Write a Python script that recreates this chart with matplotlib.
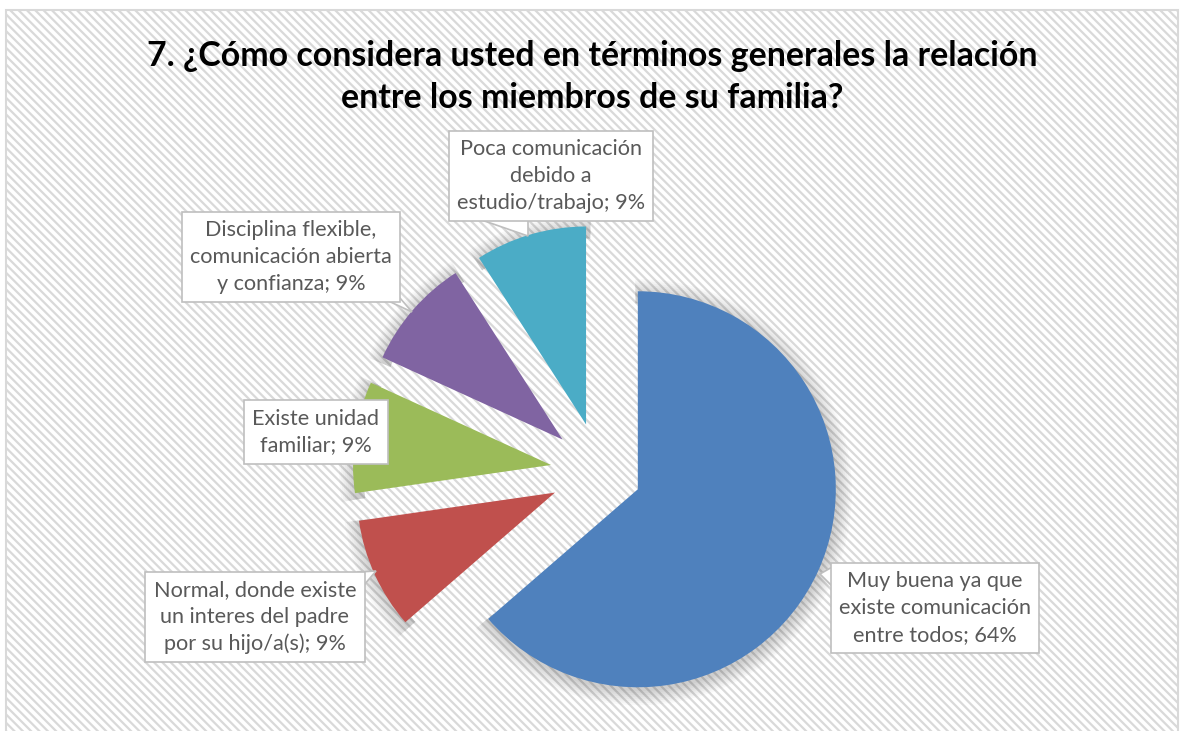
import numpy as np
import matplotlib.pyplot as plt
from matplotlib.patches import Rectangle, Wedge, Polygon

plt.rcParams['font.family'] = ['Lato', 'DejaVu Sans']
plt.rcParams['hatch.color'] = '#F3F3F3'
plt.rcParams['hatch.linewidth'] = 1.6

# data
labels = ["Muy buena ya que\nexiste comunicación\nentre todos",
          "Normal, donde existe\nun interes del padre\npor su hijo/a(s)",
          "Existe unidad\nfamiliar",
          "Disciplina flexible,\ncomunicación abierta\ny confianza",
          "Poca comunicación\ndebido a\nestudio/trabajo"]
values = [7, 1, 1, 1, 1]
colors = ["#4F81BD", "#C0504D", "#9BBB59", "#8064A2", "#4BACC6"]
explode = [0.21, 0.25, 0.25, 0.25, 0.25]
title = "7. ¿Cómo considera usted en términos generales la relación\nentre los miembros de su familia?"

# label box centres in pixels (x, y from top)
label_pos = [(935, 608), (255, 617), (316, 432), (291, 257), (551, 176)]
# callout tails (pixels from top), None = no tail
tails = [[(834, 566), (834, 588), (820, 574)],
         [(358, 572), (358, 592), (376, 571)],
         None,
         [(382, 298), (400, 298), (412, 312)],
         [(470, 216), (528, 216), (528, 236)]]

W, H = 1184, 731
fig = plt.figure(figsize=(W / 100, H / 100), dpi=100)
ax = fig.add_axes([0, 0, 1, 1])
ax.set_xlim(0, W)
ax.set_ylim(0, H)
ax.set_aspect('equal')
ax.axis('off')

# chart area with hatched background
bg = Rectangle((6, -5), 1172, H - 10 + 5, facecolor='white', edgecolor='#D9D9D9',
               linewidth=1.5, hatch='\\\\\\\\', zorder=0)
ax.add_patch(bg)

cx, cy, r = 600, H - 472, 198

# soft shadow
total = sum(values)
start = 90
for v, e in zip(values, explode):
    theta2 = start
    theta1 = start - 360 * v / total
    mid = np.deg2rad((theta1 + theta2) / 2)
    ox, oy = cx + e * r * np.cos(mid), cy + e * r * np.sin(mid)
    for k in range(8):
        ax.add_patch(Wedge((ox + 1, oy - 3), r + 1 + k * 2.0, theta1 - 1.0, theta2 + 1.0,
                           width=10 + k * 2.0, facecolor='black', edgecolor='none',
                           alpha=0.025, zorder=1))
    start = theta1

wedges, _ = ax.pie(values, colors=colors, explode=[e * r for e in explode], startangle=90,
                   counterclock=False, center=(cx, cy), radius=r,
                   wedgeprops=dict(linewidth=0))
for w in wedges:
    w.set_zorder(2)
ax.set_xlim(0, W)
ax.set_ylim(0, H)

total_pct = [round(100 * v / total) for v in values]
for lab, p, (lx, ly), tail in zip(labels, total_pct, label_pos, tails):
    if tail is not None:
        ax.add_patch(Polygon([(x, H - y) for x, y in tail], closed=True, facecolor='white',
                             edgecolor='#BFBFBF', linewidth=1.2, zorder=4))
    ax.text(lx, H - ly, f"{lab}; {p}%", ha='center', va='center', fontsize=15.6,
            color='#595959', linespacing=1.42, zorder=5,
            bbox=dict(boxstyle='square,pad=0.38', facecolor='white', edgecolor='#BFBFBF',
                      linewidth=1.2))

ax.text(592, H - 77, title, ha='center', va='center', fontsize=24.4, fontweight='bold',
        color='black', linespacing=1.4, zorder=5)

fig.savefig("out.png", dpi=100)
